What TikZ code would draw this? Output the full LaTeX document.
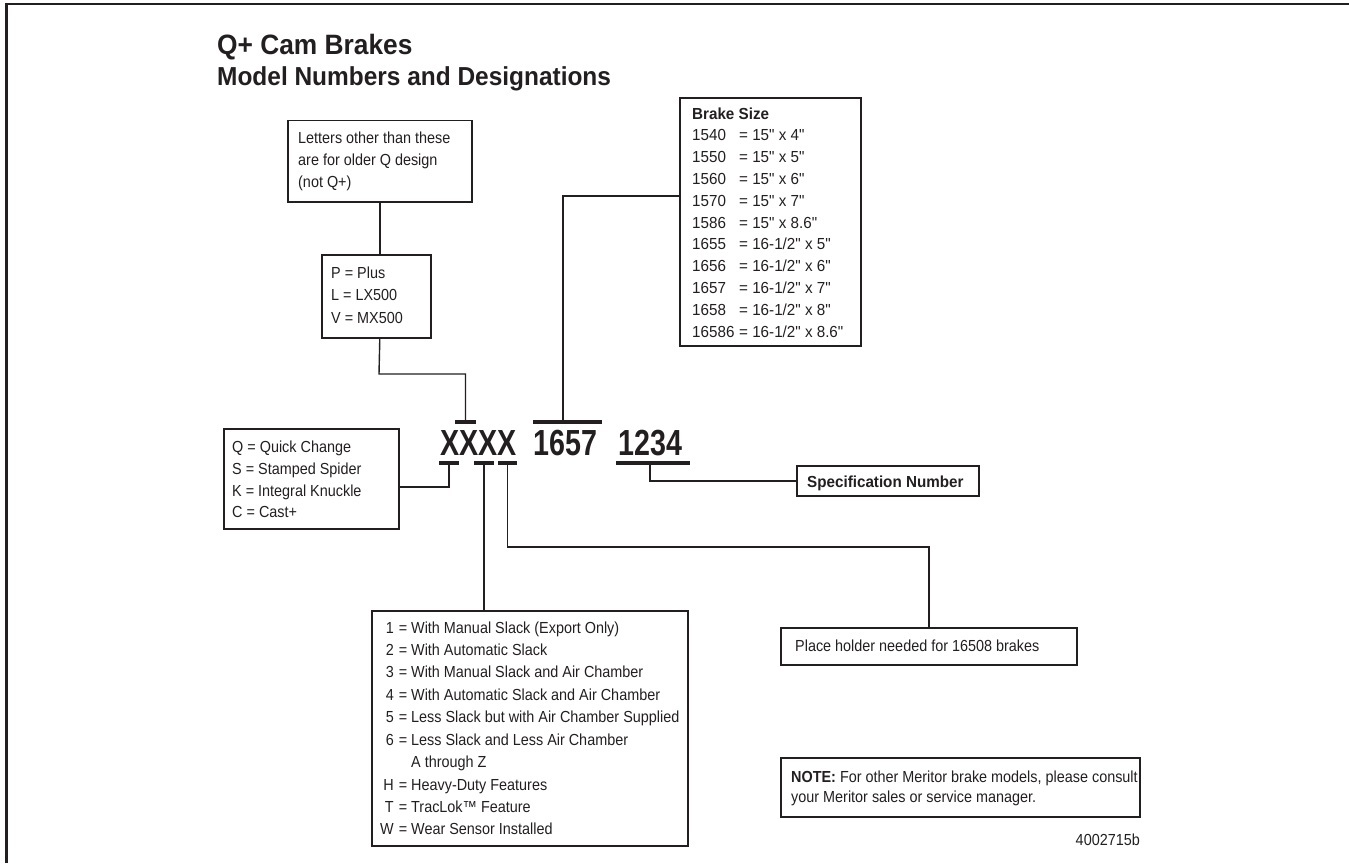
\documentclass[tikz,border=0pt]{standalone}
\usepackage{fontspec}
\newfontfamily\bodyfont{Liberation Sans}[FakeStretch=0.9]
\newfontfamily\widefont{Liberation Sans}[FakeStretch=0.95]
\newfontfamily\titlefont{Liberation Sans}[FakeStretch=0.94]
\newfontfamily\bigfont{Liberation Sans}[FakeStretch=0.79]
\definecolor{ink}{HTML}{231F20}
\newcommand{\bsz}[1]{\makebox[47pt][l]{#1}}
\begin{document}
\begin{tikzpicture}[x=1pt,y=-1pt,
  box/.style={draw=ink, line width=1.6pt, inner sep=0pt, anchor=north west},
  bar/.style={fill=ink, inner sep=0pt, minimum height=4pt},
  conn/.style={draw=ink, line width=1.4pt},
  txt/.style={inner sep=0pt, anchor=base west, text=ink, font=\bodyfont\fontsize{16}{22}\selectfont},
  bigtxt/.style={inner sep=0pt, anchor=base west, text=ink, font=\bigfont\bfseries\fontsize{36.3}{40}\selectfont},
  ttl/.style={inner sep=0pt, anchor=base west, text=ink},
]
\useasboundingbox (0,0) rectangle (1349,863);
% frame
\draw[ink, line width=2.2pt] (6.5,863) -- (6.5,4.3) -- (1349,4.3);

% title
\node[ttl, font=\titlefont\bfseries\fontsize{28}{30}\selectfont] (title1) at (217,54) {Q+ Cam Brakes};
\node[ttl, font=\titlefont\bfseries\fontsize{26}{28}\selectfont] (title2) at (217,85) {Model Numbers and Designations};

% model number
\node[bigtxt] (model) at (440,455) {XXXX};
\node[bigtxt] (size) at (533,455) {1657};
\node[bigtxt] (specnum) at (618,455) {1234};

% bars
\node[bar, minimum width=21pt] (barP) at (465.5,422) {};
\node[bar, minimum width=69pt] (barS) at (567.5,422) {};
\node[bar, minimum width=20pt] (barQ) at (449,463) {};
\node[bar, minimum width=20pt] (barT) at (484,463) {};
\node[bar, minimum width=19pt] (barH) at (507.5,463) {};
\node[bar, minimum width=74pt] (barN) at (653,463) {};

% letters box
\node[box, minimum width=184pt, minimum height=81.5pt] (lettersbox) at (287,119.5) {};
\node[txt] (letterstext) at (298,143) {\begin{tabular}[t]{@{}l@{}}Letters other than these\\are for older Q design\\(not Q+)\end{tabular}};

% P box
\node[box, minimum width=109pt, minimum height=83pt] (pbox) at (321,254) {};
\node[txt, font=\bodyfont\fontsize{16}{22.5}\selectfont] (ptext) at (331,278) {\begin{tabular}[t]{@{}l@{}}P = Plus\\L = LX500\\V = MX500\end{tabular}};

\draw[conn] (lettersbox.south) -- (lettersbox.south |- pbox.north);
\coordinate (pbend) at (379,374);
\draw[conn] (lettersbox.south |- pbox.south) -- (pbend) -| (barP.north);

% brake size box
\node[box, minimum width=181pt, minimum height=248pt] (brakebox) at (679,97) {};
\node[txt, font=\widefont\fontsize{16}{21.8}\selectfont] (braketext) at (692,119) {\begin{tabular}[t]{@{}l@{}}\textbf{Brake Size}\\
\bsz{1540}= 15" x 4"\\
\bsz{1550}= 15" x 5"\\
\bsz{1560}= 15" x 6"\\
\bsz{1570}= 15" x 7"\\
\bsz{1586}= 15" x 8.6"\\
\bsz{1655}= 16-1/2" x 5"\\
\bsz{1656}= 16-1/2" x 6"\\
\bsz{1657}= 16-1/2" x 7"\\
\bsz{1658}= 16-1/2" x 8"\\
\bsz{16586}= 16-1/2" x 8.6"\end{tabular}};
\coordinate (brakeentry) at (679,196);
\coordinate (sizecorner) at (563,196);
\draw[conn] (sizecorner |- barS.north) -- (sizecorner) -- (brakeentry);

% Q box
\node[box, minimum width=175pt, minimum height=100pt] (qbox) at (223,428) {};
\node[txt, font=\bodyfont\fontsize{16}{21.8}\selectfont] (qtext) at (232,452.5) {\begin{tabular}[t]{@{}l@{}}Q = Quick Change\\S = Stamped Spider\\K = Integral Knuckle\\C = Cast+\end{tabular}};
\coordinate (qentry) at (398,487);
\draw[conn] (barQ.south) |- (qentry);

% option list box
\node[box, minimum width=316pt, minimum height=235pt] (listbox) at (371,610) {};
\node[txt, font=\bodyfont\fontsize{16}{22.44}\selectfont] (listtext) at (380,633) {\begin{tabular}[t]{@{}r@{\hspace{5pt}}l@{}}
1 & = With Manual Slack (Export Only)\\
2 & = With Automatic Slack\\
3 & = With Manual Slack and Air Chamber\\
4 & = With Automatic Slack and Air Chamber\\
5 & = Less Slack but with Air Chamber Supplied\\
6 & = Less Slack and Less Air Chamber\\
  & \phantom{=\ }A through Z\\
H & = Heavy-Duty Features\\
T & = TracLok™ Feature\\
W & = Wear Sensor Installed\end{tabular}};
\draw[conn] (barT.south) -- (barT.south |- listbox.north);

% place holder box
\node[box, minimum width=296pt, minimum height=37pt] (phbox) at (780,627) {};
\node[txt] (phtext) at (795,651) {Place holder needed for 16508 brakes};
\coordinate (hlevel) at (507.5,547);
\draw[conn] (barH.south) -- (hlevel) -| (phbox.north);

% specification box
\node[box, minimum width=182pt, minimum height=30pt] (specbox) at (796,465) {};
\node[txt, font=\widefont\fontsize{16}{22}\selectfont] (spectext) at (807,487) {\textbf{Specification Number}};
\draw[conn] ([xshift=-3pt]barN.south) |- (specbox.west);

% note box
\node[box, minimum width=359pt, minimum height=59pt] (notebox) at (780,757) {};
\node[txt, font=\bodyfont\fontsize{16}{20}\selectfont] (notetext) at (791,782) {\begin{tabular}[t]{@{}l@{}}\textbf{NOTE:} For other Meritor brake models, please consult\\your Meritor sales or service manager.\end{tabular}};

% figure number
\node[txt, anchor=base east] (fignum) at (1140,845) {4002715b};
\end{tikzpicture}
\end{document}
